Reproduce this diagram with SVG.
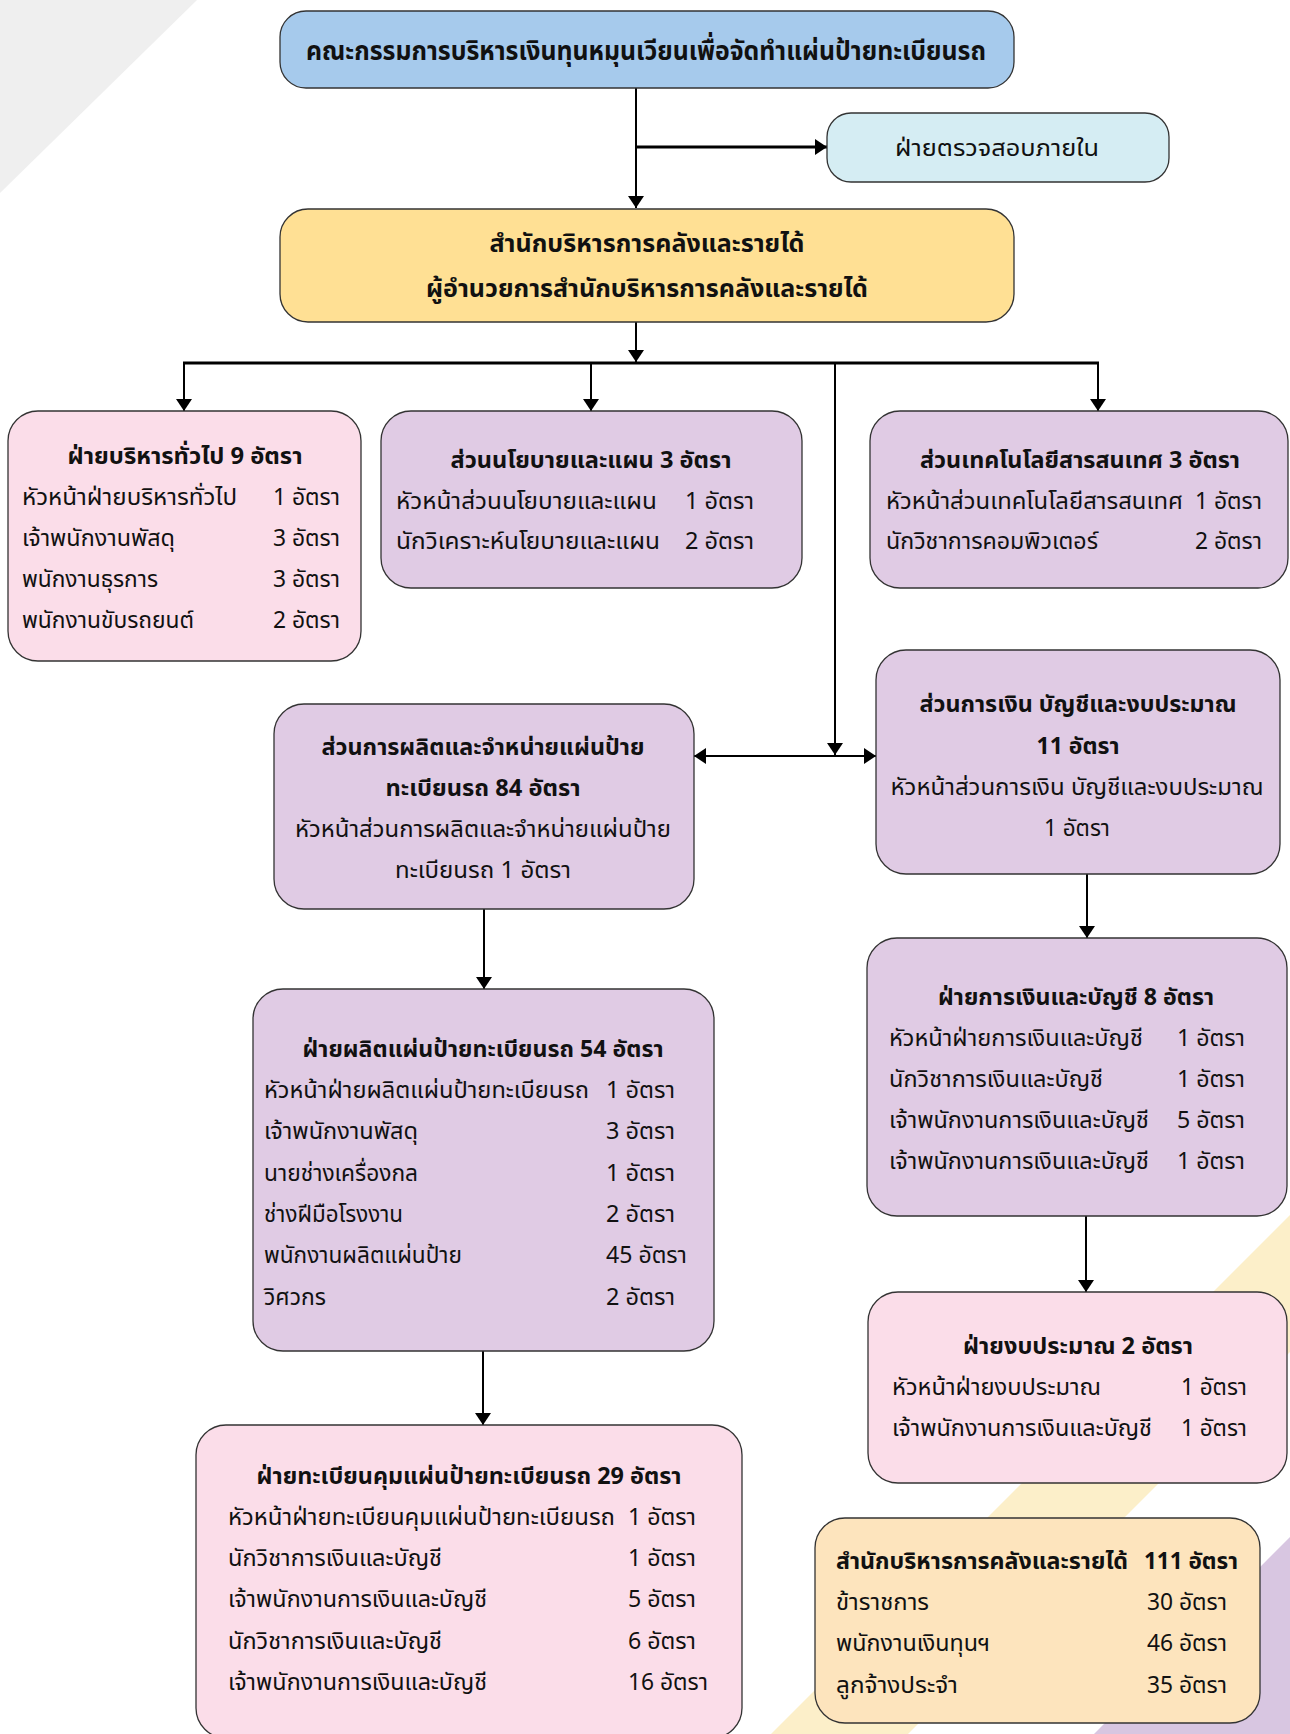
<svg xmlns="http://www.w3.org/2000/svg" width="1290" height="1734" viewBox="0 0 1290 1734">
<style>
text{font-family:"Noto Sans Thai","Noto Sans","DejaVu Sans",sans-serif;fill:#111;font-size:23px}
.b{font-weight:bold;font-size:23.5px}
.m{text-anchor:middle}
.box{stroke:#333;stroke-width:1.3}
.blue{fill:#a6caec}.cyan{fill:#d5edf3}.gold{fill:#ffe094}.pink{fill:#fbdde9}.lav{fill:#e0cbe4}.peach{fill:#fde4bd}
.ln{stroke:#000;stroke-width:2;fill:none}
.ar{marker-end:url(#ah)}
</style>
<defs>
<marker id="ah" viewBox="0 0 12 16" refX="12" refY="8" markerWidth="12" markerHeight="16" markerUnits="userSpaceOnUse" orient="auto-start-reverse">
<path d="M0,0 L12,8 L0,16 z" fill="#000"/>
</marker>
</defs>
<g id="background">
<polygon points="0,0 197,0 0,193" fill="#efefef"/>
<polygon points="1290,1215 1290,1352 908,1734 771,1734" fill="#fcefc9"/>
<polygon points="1290,1537 1290,1734 1094,1734" fill="#d8c6e1"/>
</g>
<g id="connectors">
<line class="ln ar" x1="636" y1="88" x2="636" y2="208"/>
<line class="ln ar" x1="636" y1="147" x2="827" y2="147" style="stroke-width:3"/>
<line class="ln ar" x1="636" y1="322" x2="636" y2="362"/>
<line class="ln" x1="183" y1="363" x2="1099" y2="363" style="stroke-width:3"/>
<line class="ln ar" x1="184" y1="363" x2="184" y2="411"/>
<line class="ln ar" x1="591" y1="363" x2="591" y2="411"/>
<line class="ln ar" x1="1098" y1="363" x2="1098" y2="411"/>
<line class="ln ar" x1="835" y1="363" x2="835" y2="755"/>
<line class="ln" x1="694" y1="756" x2="876" y2="756" style="marker-start:url(#ah);marker-end:url(#ah)"/>
<line class="ln ar" x1="484" y1="909" x2="484" y2="989"/>
<line class="ln ar" x1="1087" y1="874" x2="1087" y2="938"/>
<line class="ln ar" x1="483" y1="1351" x2="483" y2="1425"/>
<line class="ln ar" x1="1086" y1="1216" x2="1086" y2="1292"/>
</g>
<g id="board">
<rect class="box blue" x="280" y="11" width="734" height="77" rx="26"/>
<text class="b m" x="646" y="60" style="font-size:27px" textLength="680" lengthAdjust="spacingAndGlyphs">คณะกรรมการบริหารเงินทุนหมุนเวียนเพื่อจัดทำแผ่นป้ายทะเบียนรถ</text>
</g>
<g id="audit">
<rect class="box cyan" x="827" y="113" width="342" height="69" rx="24"/>
<text class="m" x="997" y="156" textLength="204" lengthAdjust="spacingAndGlyphs">ฝ่ายตรวจสอบภายใน</text>
</g>
<g id="office">
<rect class="box gold" x="280" y="209" width="734" height="113" rx="28"/>
<text class="b m" x="647" y="252" style="font-size:25.5px" textLength="315" lengthAdjust="spacingAndGlyphs">สำนักบริหารการคลังและรายได้</text>
<text class="b m" x="647" y="297" style="font-size:25.5px" textLength="442" lengthAdjust="spacingAndGlyphs">ผู้อำนวยการสำนักบริหารการคลังและรายได้</text>
</g>
<g id="admin">
<rect class="box pink" x="8" y="411" width="353" height="250" rx="30"/>
<text class="b m" x="185" y="464" textLength="235" lengthAdjust="spacingAndGlyphs">ฝ่ายบริหารทั่วไป 9 อัตรา</text>
<text x="22" y="505" textLength="215" lengthAdjust="spacingAndGlyphs">หัวหน้าฝ่ายบริหารทั่วไป</text>
<text x="273" y="505" textLength="67" lengthAdjust="spacingAndGlyphs">1 อัตรา</text>
<text x="22" y="546" textLength="153" lengthAdjust="spacingAndGlyphs">เจ้าพนักงานพัสดุ</text>
<text x="273" y="546" textLength="67" lengthAdjust="spacingAndGlyphs">3 อัตรา</text>
<text x="22" y="587" textLength="136" lengthAdjust="spacingAndGlyphs">พนักงานธุรการ</text>
<text x="273" y="587" textLength="67" lengthAdjust="spacingAndGlyphs">3 อัตรา</text>
<text x="22" y="628" textLength="172" lengthAdjust="spacingAndGlyphs">พนักงานขับรถยนต์</text>
<text x="273" y="628" textLength="67" lengthAdjust="spacingAndGlyphs">2 อัตรา</text>
</g>
<g id="policy">
<rect class="box lav" x="381" y="411" width="421" height="177" rx="30"/>
<text class="b m" x="591" y="468" textLength="281" lengthAdjust="spacingAndGlyphs">ส่วนนโยบายและแผน 3 อัตรา</text>
<text x="396" y="509" textLength="261" lengthAdjust="spacingAndGlyphs">หัวหน้าส่วนนโยบายและแผน</text>
<text x="685" y="509" textLength="69" lengthAdjust="spacingAndGlyphs">1 อัตรา</text>
<text x="396" y="549" textLength="264" lengthAdjust="spacingAndGlyphs">นักวิเคราะห์นโยบายและแผน</text>
<text x="685" y="549" textLength="69" lengthAdjust="spacingAndGlyphs">2 อัตรา</text>
</g>
<g id="it">
<rect class="box lav" x="870" y="411" width="418" height="177" rx="30"/>
<text class="b m" x="1080" y="468" textLength="320" lengthAdjust="spacingAndGlyphs">ส่วนเทคโนโลยีสารสนเทศ 3 อัตรา</text>
<text x="886" y="509" textLength="297" lengthAdjust="spacingAndGlyphs">หัวหน้าส่วนเทคโนโลยีสารสนเทศ</text>
<text x="1195" y="509" textLength="67" lengthAdjust="spacingAndGlyphs">1 อัตรา</text>
<text x="886" y="549" textLength="212" lengthAdjust="spacingAndGlyphs">นักวิชาการคอมพิวเตอร์</text>
<text x="1195" y="549" textLength="67" lengthAdjust="spacingAndGlyphs">2 อัตรา</text>
</g>
<g id="production">
<rect class="box lav" x="274" y="704" width="420" height="205" rx="30"/>
<text class="b m" x="483" y="755" textLength="323" lengthAdjust="spacingAndGlyphs">ส่วนการผลิตและจำหน่ายแผ่นป้าย</text>
<text class="b m" x="483" y="796" textLength="195" lengthAdjust="spacingAndGlyphs">ทะเบียนรถ 84 อัตรา</text>
<text class="m" x="483" y="837" textLength="376" lengthAdjust="spacingAndGlyphs">หัวหน้าส่วนการผลิตและจำหน่ายแผ่นป้าย</text>
<text class="m" x="483" y="878" textLength="176" lengthAdjust="spacingAndGlyphs">ทะเบียนรถ 1 อัตรา</text>
</g>
<g id="finance">
<rect class="box lav" x="876" y="650" width="404" height="224" rx="30"/>
<text class="b m" x="1078" y="712" textLength="317" lengthAdjust="spacingAndGlyphs">ส่วนการเงิน บัญชีและงบประมาณ</text>
<text class="b m" x="1078" y="754" textLength="83" lengthAdjust="spacingAndGlyphs">11 อัตรา</text>
<text class="m" x="1077" y="795" textLength="373" lengthAdjust="spacingAndGlyphs">หัวหน้าส่วนการเงิน บัญชีและงบประมาณ</text>
<text class="m" x="1077" y="836" textLength="66" lengthAdjust="spacingAndGlyphs">1 อัตรา</text>
</g>
<g id="plate">
<rect class="box lav" x="253" y="989" width="461" height="362" rx="30"/>
<text class="b m" x="483" y="1057" textLength="361" lengthAdjust="spacingAndGlyphs">ฝ่ายผลิตแผ่นป้ายทะเบียนรถ 54 อัตรา</text>
<text x="264" y="1098" textLength="325" lengthAdjust="spacingAndGlyphs">หัวหน้าฝ่ายผลิตแผ่นป้ายทะเบียนรถ</text>
<text x="606" y="1098" textLength="69" lengthAdjust="spacingAndGlyphs">1 อัตรา</text>
<text x="264" y="1139" textLength="154" lengthAdjust="spacingAndGlyphs">เจ้าพนักงานพัสดุ</text>
<text x="606" y="1139" textLength="69" lengthAdjust="spacingAndGlyphs">3 อัตรา</text>
<text x="264" y="1181" textLength="154" lengthAdjust="spacingAndGlyphs">นายช่างเครื่องกล</text>
<text x="606" y="1181" textLength="69" lengthAdjust="spacingAndGlyphs">1 อัตรา</text>
<text x="264" y="1222" textLength="139" lengthAdjust="spacingAndGlyphs">ช่างฝีมือโรงงาน</text>
<text x="606" y="1222" textLength="69" lengthAdjust="spacingAndGlyphs">2 อัตรา</text>
<text x="264" y="1263" textLength="198" lengthAdjust="spacingAndGlyphs">พนักงานผลิตแผ่นป้าย</text>
<text x="606" y="1263" textLength="81" lengthAdjust="spacingAndGlyphs">45 อัตรา</text>
<text x="264" y="1305" textLength="62" lengthAdjust="spacingAndGlyphs">วิศวกร</text>
<text x="606" y="1305" textLength="69" lengthAdjust="spacingAndGlyphs">2 อัตรา</text>
</g>
<g id="accounting">
<rect class="box lav" x="867" y="938" width="420" height="278" rx="30"/>
<text class="b m" x="1076" y="1005" textLength="276" lengthAdjust="spacingAndGlyphs">ฝ่ายการเงินและบัญชี 8 อัตรา</text>
<text x="889" y="1046" textLength="254" lengthAdjust="spacingAndGlyphs">หัวหน้าฝ่ายการเงินและบัญชี</text>
<text x="1177" y="1046" textLength="68" lengthAdjust="spacingAndGlyphs">1 อัตรา</text>
<text x="889" y="1087" textLength="214" lengthAdjust="spacingAndGlyphs">นักวิชาการเงินและบัญชี</text>
<text x="1177" y="1087" textLength="68" lengthAdjust="spacingAndGlyphs">1 อัตรา</text>
<text x="889" y="1128" textLength="260" lengthAdjust="spacingAndGlyphs">เจ้าพนักงานการเงินและบัญชี</text>
<text x="1177" y="1128" textLength="68" lengthAdjust="spacingAndGlyphs">5 อัตรา</text>
<text x="889" y="1169" textLength="260" lengthAdjust="spacingAndGlyphs">เจ้าพนักงานการเงินและบัญชี</text>
<text x="1177" y="1169" textLength="68" lengthAdjust="spacingAndGlyphs">1 อัตรา</text>
</g>
<g id="registry">
<rect class="box pink" x="196" y="1425" width="546" height="313" rx="30"/>
<text class="b m" x="469" y="1484" textLength="425" lengthAdjust="spacingAndGlyphs">ฝ่ายทะเบียนคุมแผ่นป้ายทะเบียนรถ 29 อัตรา</text>
<text x="228" y="1525" textLength="387" lengthAdjust="spacingAndGlyphs">หัวหน้าฝ่ายทะเบียนคุมแผ่นป้ายทะเบียนรถ</text>
<text x="628" y="1525" textLength="68" lengthAdjust="spacingAndGlyphs">1 อัตรา</text>
<text x="228" y="1566" textLength="214" lengthAdjust="spacingAndGlyphs">นักวิชาการเงินและบัญชี</text>
<text x="628" y="1566" textLength="68" lengthAdjust="spacingAndGlyphs">1 อัตรา</text>
<text x="228" y="1607" textLength="259" lengthAdjust="spacingAndGlyphs">เจ้าพนักงานการเงินและบัญชี</text>
<text x="628" y="1607" textLength="68" lengthAdjust="spacingAndGlyphs">5 อัตรา</text>
<text x="228" y="1649" textLength="214" lengthAdjust="spacingAndGlyphs">นักวิชาการเงินและบัญชี</text>
<text x="628" y="1649" textLength="68" lengthAdjust="spacingAndGlyphs">6 อัตรา</text>
<text x="228" y="1690" textLength="259" lengthAdjust="spacingAndGlyphs">เจ้าพนักงานการเงินและบัญชี</text>
<text x="628" y="1690" textLength="80" lengthAdjust="spacingAndGlyphs">16 อัตรา</text>
</g>
<g id="budget">
<rect class="box pink" x="868" y="1292" width="419" height="191" rx="30"/>
<text class="b m" x="1078" y="1354" textLength="230" lengthAdjust="spacingAndGlyphs">ฝ่ายงบประมาณ 2 อัตรา</text>
<text x="892" y="1395" textLength="209" lengthAdjust="spacingAndGlyphs">หัวหน้าฝ่ายงบประมาณ</text>
<text x="1181" y="1395" textLength="66" lengthAdjust="spacingAndGlyphs">1 อัตรา</text>
<text x="892" y="1436" textLength="260" lengthAdjust="spacingAndGlyphs">เจ้าพนักงานการเงินและบัญชี</text>
<text x="1181" y="1436" textLength="66" lengthAdjust="spacingAndGlyphs">1 อัตรา</text>
</g>
<g id="summary">
<rect class="box peach" x="815" y="1518" width="445" height="205" rx="30"/>
<text class="b" x="836" y="1569" textLength="292" lengthAdjust="spacingAndGlyphs">สำนักบริหารการคลังและรายได้</text>
<text class="b" x="1144" y="1569" textLength="94" lengthAdjust="spacingAndGlyphs">111 อัตรา</text>
<text x="836" y="1610" textLength="93" lengthAdjust="spacingAndGlyphs">ข้าราชการ</text>
<text x="1147" y="1610" textLength="80" lengthAdjust="spacingAndGlyphs">30 อัตรา</text>
<text x="836" y="1651" textLength="154" lengthAdjust="spacingAndGlyphs">พนักงานเงินทุนฯ</text>
<text x="1147" y="1651" textLength="80" lengthAdjust="spacingAndGlyphs">46 อัตรา</text>
<text x="836" y="1693" textLength="122" lengthAdjust="spacingAndGlyphs">ลูกจ้างประจำ</text>
<text x="1147" y="1693" textLength="80" lengthAdjust="spacingAndGlyphs">35 อัตรา</text>
</g>
</svg>
